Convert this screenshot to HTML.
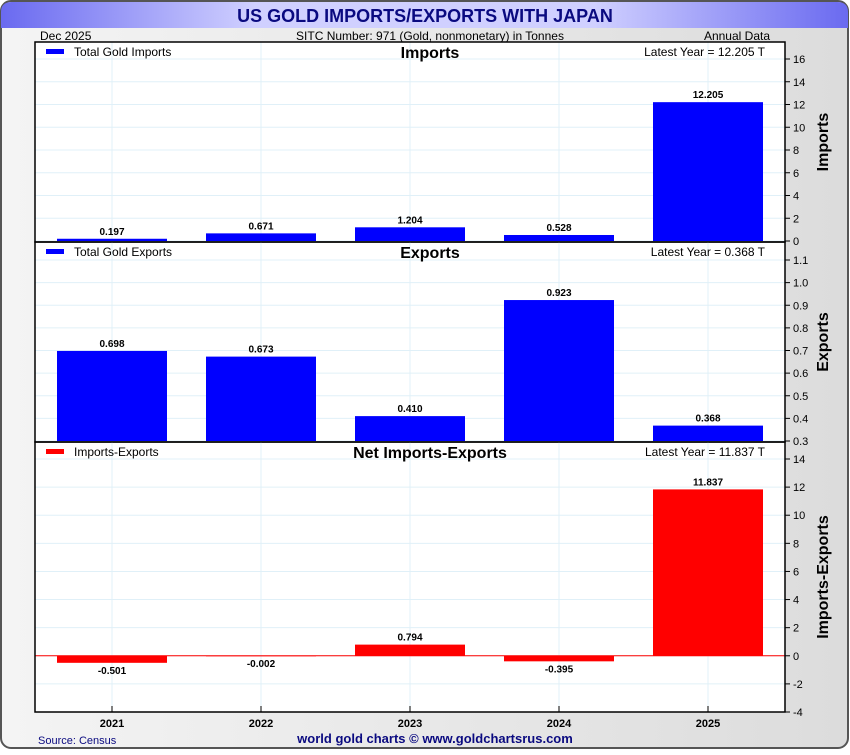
<!DOCTYPE html>
<html><head><meta charset="utf-8"><style>
body{margin:0;background:#fff;font-family:"Liberation Sans",sans-serif}
svg text{font-family:"Liberation Sans",sans-serif}
</style></head><body>
<svg id="c" width="850" height="750" xmlns="http://www.w3.org/2000/svg">
<defs>
<linearGradient id="bg" x1="0" x2="1" y1="0" y2="0"><stop offset="0" stop-color="#f4f4f4"/><stop offset="1" stop-color="#dcdcdc"/></linearGradient>
<linearGradient id="tg" x1="0" x2="1"><stop offset="0" stop-color="#6a6af0"/><stop offset="0.3" stop-color="#d0d0ff"/><stop offset="0.7" stop-color="#d0d0ff"/><stop offset="1" stop-color="#6a6af0"/></linearGradient>
</defs>
<rect x="1" y="1" width="847" height="747" rx="10" fill="url(#bg)" stroke="#555" stroke-width="2"/>
<path d="M1,28 L1,12 Q1,2 12,2 L837,2 Q848,2 848,12 L848,28 Z" fill="url(#tg)"/>
<text x="425" y="22" text-anchor="middle" font-size="18" font-weight="bold" fill="#0a0a80">US GOLD IMPORTS/EXPORTS WITH JAPAN</text>
<text x="40" y="40" font-size="12">Dec  2025</text>
<text x="430" y="40" font-size="12" text-anchor="middle">SITC Number: 971 (Gold, nonmonetary) in Tonnes</text>
<text x="770" y="40" font-size="12" text-anchor="end">Annual Data</text>
<rect x="35" y="42" width="750" height="670" fill="#fff"/>
<g id="g"></g>
<text x="38" y="744" font-size="11" fill="#0a0a80">Source: Census</text>
<text x="435" y="743" font-size="13" font-weight="bold" text-anchor="middle" fill="#0a0a80">world gold charts © www.goldchartsrus.com</text>
</svg>
<script>
const years=["2021","2022","2023","2024","2025"];
const imports=[0.197,0.671,1.204,0.528,12.205];
const exportsV=[0.698,0.673,0.410,0.923,0.368];
const netV=[-0.501,-0.002,0.794,-0.395,11.837];
const impTicks=[0,2,4,6,8,10,12,14,16];
const expTicks=[0.3,0.4,0.5,0.6,0.7,0.8,0.9,1.0,1.1];
const netTicks=[-4,-2,0,2,4,6,8,10,12,14];
const NS="http://www.w3.org/2000/svg";
const g=document.getElementById('g');
function mk(t,a,txt){const e=document.createElementNS(NS,t);for(const k in a)e.setAttribute(k,a[k]);if(txt!==undefined)e.textContent=txt;g.appendChild(e);return e;}
const X0=35,X1=785,step=149,bw=110;
const xc=i=>X0+77+i*step;
const panels=[
 {vals:imports,ticks:impTicks,top:42,bot:242,lo:0,hi:16.1,pTop:59,pBot:241,fmt:v=>v,color:"#0000ff",legend:"Total Gold Imports",title:"Imports",latest:"Latest Year = 12.205 T",axis:"Imports",base:0,key:"imports"},
 {vals:exportsV,ticks:expTicks,top:242,bot:442,lo:0.3,hi:1.1,pTop:260,pBot:441,fmt:v=>v.toFixed(1),color:"#0000ff",legend:"Total Gold Exports",title:"Exports",latest:"Latest Year = 0.368 T",axis:"Exports",base:0.3,key:"exports"},
 {vals:netV,ticks:netTicks,top:442,bot:712,lo:-4,hi:14,pTop:459,pBot:712,fmt:v=>v,color:"#ff0000",legend:"Imports-Exports",title:"Net Imports-Exports",latest:"Latest Year = 11.837 T",axis:"Imports-Exports",base:0,key:"net"}
];
panels.forEach(p=>{
 const lo=p.ticks[0],hi=p.ticks[p.ticks.length-1];
 const y=v=>p.pBot-(v-lo)/(hi-lo)*(p.pBot-p.pTop);
 p.ticks.forEach(t=>{
  let l=mk('line',{x1:X0,x2:X1,y1:y(t),y2:y(t),stroke:"#e0f0f8"});
  
  
  let tk=mk('line',{x1:X1,x2:X1+5,y1:y(t),y2:y(t),stroke:"#000"});
  
  
  let tl=mk('text',{x:X1+8,y:y(t)+4,"font-size":11},String(p.fmt(t)));
  
  
 });
 years.forEach((yr,i)=>{
  let l=mk('line',{x1:xc(i),x2:xc(i),y1:p.top,y2:p.bot,stroke:"#e0f0f8"});
  
  
 });
 p.vals.forEach((v,i)=>{
  const yb=y(p.base),yv=y(v);
  let r=mk('rect',{x:xc(i)-bw/2,y:Math.min(yb,yv),width:bw,height:Math.max(Math.abs(yb-yv),0.5),fill:p.color});
  
  
  const ly=v>=0?yv-4:yb+Math.abs(yb-yv)+11;
  let t=mk('text',{x:xc(i),y:ly,"font-size":10,"font-weight":"bold","text-anchor":"middle"},v.toFixed(3));
  
  
 });
 if(p.key==='net'){let z=mk('line',{x1:X0,x2:X1,y1:y(0),y2:y(0),stroke:"#ff0000"});}
 let b=mk('rect',{x:X0,y:p.top,width:X1-X0,height:p.bot-p.top,fill:"none",stroke:"#000","stroke-width":1.5});
 
 
 let lg=mk('rect',{x:46,y:p.top+7,width:18,height:5,fill:p.color});
 
 
 let lt=mk('text',{x:74,y:p.top+14,"font-size":12},p.legend);
 
 
 let pt=mk('text',{x:430,y:p.top+16,"font-size":16,"font-weight":"bold","text-anchor":"middle"},p.title);
 
 
 let la=mk('text',{x:765,y:p.top+14,"font-size":12,"text-anchor":"end"},p.latest);
 
 
 const my=(p.top+p.bot)/2;
 let at=mk('text',{x:828,y:my,"font-size":16,"font-weight":"bold","text-anchor":"middle",transform:`rotate(-90 828 ${my})`},p.axis);
 
 
});
years.forEach((yr,i)=>{
 let tk=mk('line',{x1:xc(i),x2:xc(i),y1:706,y2:712,stroke:"#000"});
 
 
 let t=mk('text',{x:xc(i),y:727,"font-size":11,"font-weight":"bold","text-anchor":"middle"},yr);
 
 
});
</script>
</body></html>
